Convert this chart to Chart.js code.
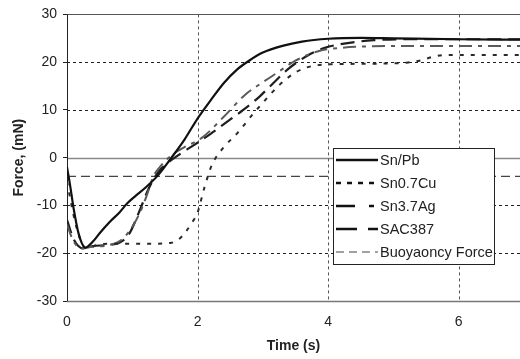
<!DOCTYPE html>
<html lang="en">
<head>
<meta charset="UTF-8">
<title>Force vs time</title>
<script src="https://cdn.jsdelivr.net/npm/chart.js"></script>
<style>
  html, body { margin: 0; padding: 0; background: #fff; }
  #wrap { width: 520px; height: 359px; }
</style>
</head>
<body>
<div id="wrap"><canvas id="myChart" width="520" height="359"></canvas></div>
<script>
// values (time in s, force in mN)
const seriesNames = ['Sn/Pb', 'Sn0.7Cu', 'Sn3.7Ag', 'SAC387', 'Buoyaoncy Force'];

const timeSnPb  = [0, 0.05, 0.1, 0.18, 0.28, 0.4, 0.5, 0.65, 0.8, 0.92, 1.05, 1.2, 1.4, 1.6, 1.8, 2.0, 2.2, 2.4, 2.6, 2.8, 3.0, 3.3, 3.6, 4.0, 4.5, 5.0, 6.0, 7.0];
const forceSnPb = [-2, -6, -10.5, -16, -18.8, -17.5, -15.8, -13.5, -11.5, -9.6, -8, -6.3, -3.6, 0, 3.8, 8.2, 12, 15.6, 18.4, 20.4, 22, 23.4, 24.3, 24.9, 25.1, 25, 24.8, 24.7];

const timeSnCu  = [0, 0.1, 0.2, 0.3, 0.45, 0.7, 1.0, 1.3, 1.6, 1.72, 1.82, 1.92, 2.0, 2.1, 2.22, 2.39, 2.62, 2.84, 3.0, 3.26, 3.52, 3.8, 4.2, 4.8, 5.2, 5.4, 5.6, 5.8, 7.0];
const forceSnCu = [-5, -12, -17, -19, -18.3, -18, -18, -18, -17.8, -17, -15.5, -13.5, -11.5, -6.5, -1.5, 2, 5.3, 9, 11.5, 15.3, 18, 19.3, 19.6, 19.7, 19.9, 20.3, 21.1, 21.5, 21.5];

const timeSnAg  = [0, 0.1, 0.22, 0.4, 0.6, 0.8, 0.95, 1.1, 1.22, 1.32, 1.45, 1.6, 1.8, 2.07, 2.39, 2.73, 3.0, 3.2, 3.5, 3.85, 4.2, 4.6, 5.0, 7.0];
const forceSnAg = [-14, -17.5, -19, -18.6, -18.4, -17.5, -15.5, -12, -8, -4, -1.5, 0.5, 2.2, 4.2, 8.4, 13.2, 15.8, 17.6, 20.3, 22.3, 23, 23.3, 23.4, 23.4];

const timeSAC  = [0, 0.1, 0.25, 0.4, 0.6, 0.8, 0.95, 1.1, 1.25, 1.4, 1.55, 1.7, 1.95, 2.2, 2.45, 2.7, 2.95, 3.1, 3.4, 3.7, 3.95, 4.3, 4.7, 5.2, 7.0];
const forceSAC = [-13, -17, -19, -18.5, -18.3, -17.8, -16, -11.5, -6.5, -3, -1, 0.5, 2.7, 5, 7.5, 10, 12.8, 14.8, 18.7, 21.5, 23, 24, 24.6, 24.8, 24.8];

const timeBuoy  = [0, 7];
const forceBuoy = [-3.9, -3.9];

const xTicks = [0, 2, 4, 6];
const yTicks = [-30, -20, -10, 0, 10, 20, 30];

const toPoints = (xs, ys) => xs.map((x, i) => ({ x: x, y: ys[i] }));

const styles = [
  { color: '#111', width: 2.2, dash: [] },
  { color: '#2a2a2a', width: 2, dash: [4, 7] },
  { color: '#5a5a5a', width: 2, dash: [13, 6, 4, 6] },
  { color: '#1e1e1e', width: 2.2, dash: [14, 7] },
  { color: '#444', width: 1.2, dash: [9, 5] }
];
// legend samples are drawn a bit differently from the curves
const legendDash = [[], [5, 6], [19, 14, 5, 100], [21, 11], [8, 5]];
const legendColors = ['#111', '#111', '#111', '#111', '#444'];

const allData = [
  toPoints(timeSnPb, forceSnPb),
  toPoints(timeSnCu, forceSnCu),
  toPoints(timeSnAg, forceSnAg),
  toPoints(timeSAC, forceSAC),
  toPoints(timeBuoy, forceBuoy)
];

// grid / frame drawn under the curves
const framePlugin = {
  id: 'frame',
  beforeDatasetsDraw(chart) {
    const { ctx, chartArea: a, scales: { x, y } } = chart;
    ctx.save();
    ctx.lineWidth = 1;
    // horizontal grid
    yTicks.forEach(v => {
      const py = Math.round(y.getPixelForValue(v)) + 0.5;
      if (v === 30) { ctx.strokeStyle = '#555'; ctx.setLineDash([]); }
      else if (v === -30) { ctx.strokeStyle = '#777'; ctx.setLineDash([]); ctx.lineWidth = 1.5; }
      else if (v === 0) { ctx.strokeStyle = '#8a8a8a'; ctx.setLineDash([]); ctx.lineWidth = 1.5; }
      else { ctx.strokeStyle = '#222'; ctx.setLineDash([3, 3]); ctx.lineWidth = 1; }
      ctx.beginPath();
      ctx.moveTo(a.left, py);
      ctx.lineTo(a.right, py);
      ctx.stroke();
      ctx.lineWidth = 1;
    });
    // vertical grid
    ctx.setLineDash([3, 3]);
    ctx.strokeStyle = '#555';
    xTicks.filter(v => v > 0).forEach(v => {
      const px = Math.round(x.getPixelForValue(v)) + 0.5;
      ctx.beginPath();
      ctx.moveTo(px, a.top);
      ctx.lineTo(px, a.bottom);
      ctx.stroke();
    });
    // left axis
    ctx.setLineDash([]);
    ctx.strokeStyle = '#222';
    ctx.beginPath();
    ctx.moveTo(a.left + 0.5, a.top);
    ctx.lineTo(a.left + 0.5, a.bottom);
    ctx.stroke();
    ctx.restore();
  }
};

// boxed legend inside the plot
const legendPlugin = {
  id: 'boxLegend',
  afterDraw(chart) {
    const ctx = chart.ctx;
    const bx = 333, by = 148, bw = 161, bh = 116;
    ctx.save();
    ctx.fillStyle = '#fff';
    ctx.fillRect(bx, by, bw, bh);
    ctx.strokeStyle = '#222';
    ctx.lineWidth = 1;
    ctx.strokeRect(bx + 0.5, by + 0.5, bw, bh);
    ctx.font = '14.5px "Liberation Sans", Arial, sans-serif';
    ctx.textBaseline = 'middle';
    seriesNames.forEach((name, i) => {
      const ly = by + 12 + i * 23;
      ctx.strokeStyle = legendColors[i];
      ctx.lineWidth = i === 4 ? 1.2 : 2.6;
      ctx.setLineDash(legendDash[i]);
      ctx.beginPath();
      ctx.moveTo(bx + 3, ly);
      ctx.lineTo(bx + 45, ly);
      ctx.stroke();
      ctx.setLineDash([]);
      ctx.fillStyle = '#222';
      ctx.fillText(name, bx + 47, ly + 1);
    });
    ctx.restore();
  }
};

const ctx = document.getElementById('myChart').getContext('2d');
new Chart(ctx, {
  type: 'line',
  data: {
    datasets: seriesNames.map((name, i) => ({
      label: name,
      data: allData[i],
      borderColor: styles[i].color,
      borderWidth: styles[i].width,
      borderDash: styles[i].dash,
      pointRadius: 0,
      fill: false,
      cubicInterpolationMode: 'monotone'
    }))
  },
  options: {
    responsive: false,
    animation: false,
    layout: { padding: { top: 14, right: 0, left: 0, bottom: 0 } },
    plugins: {
      legend: { display: false },
      tooltip: { enabled: false }
    },
    scales: {
      x: {
        type: 'linear',
        min: 0,
        max: 6.94,
        afterFit: s => { s.height = 58; },
        grid: { display: false, drawTicks: false },
        border: { display: false },
        ticks: {
          stepSize: 2,
          includeBounds: false,
          padding: 13,
          color: '#222',
          font: { family: 'Liberation Sans', size: 14 }
        },
        title: {
          display: true,
          text: 'Time (s)',
          color: '#222',
          font: { family: 'Liberation Sans', size: 14, weight: 'bold' },
          padding: { top: 4, bottom: 4 }
        }
      },
      y: {
        min: -30,
        max: 30,
        afterFit: s => { s.width = 67; },
        grid: { drawOnChartArea: false, drawTicks: true, tickLength: 4, color: '#222' },
        border: { display: false },
        ticks: {
          stepSize: 10,
          padding: 6,
          color: '#222',
          font: { family: 'Liberation Sans', size: 14 }
        },
        title: {
          display: true,
          text: 'Force, (mN)',
          color: '#222',
          font: { family: 'Liberation Sans', size: 14, weight: 'bold' },
          padding: { top: 11, bottom: 4 }
        }
      }
    }
  },
  plugins: [framePlugin, legendPlugin]
});
</script>
</body>
</html>
